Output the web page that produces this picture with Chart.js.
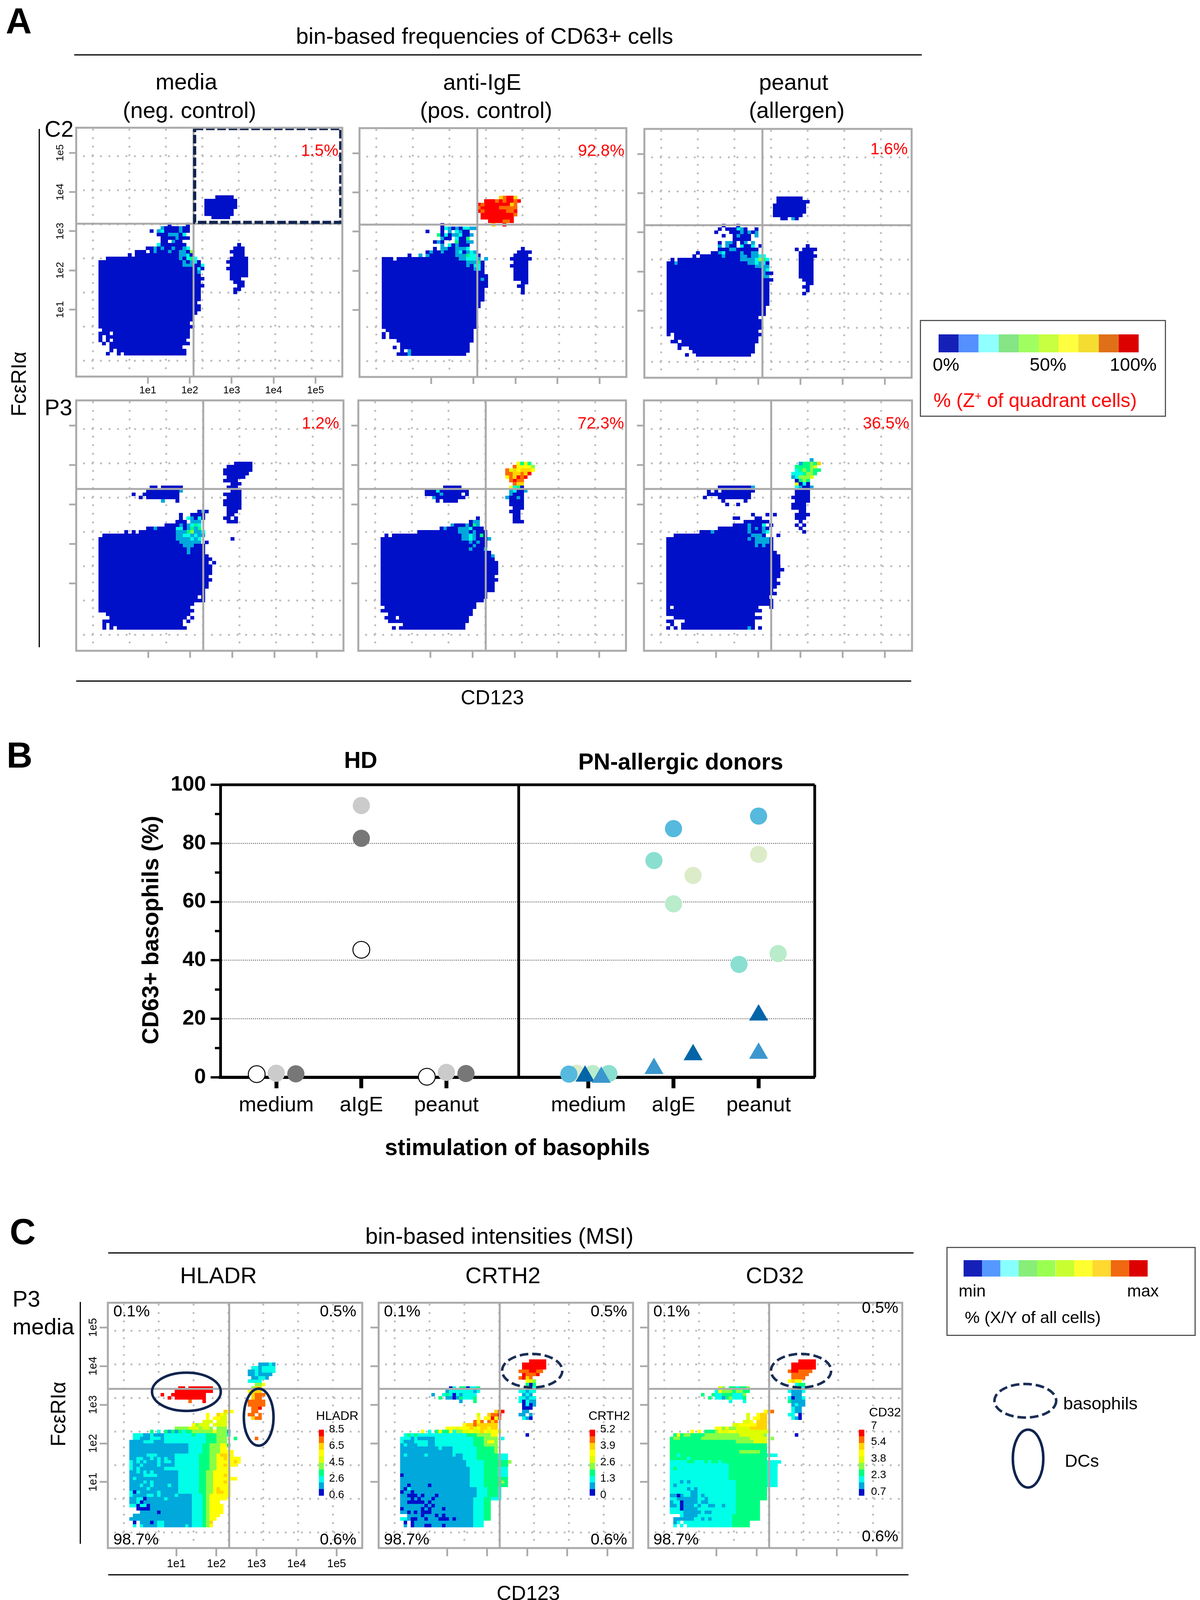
<!DOCTYPE html>
<html>
<head>
<meta charset="utf-8">
<title>CD63 basophil panels</title>
<script src="https://cdn.jsdelivr.net/npm/chart.js@4/dist/chart.umd.min.js"></script>
<style>
  html, body { margin: 0; background: #fff; }
  #page { position: relative; width: 3071px; height: 4113px; overflow: hidden; font-family: "Liberation Sans", Arial, sans-serif; color: #000; }
  #page canvas { position: absolute; }
  .txt { position: absolute; white-space: nowrap; line-height: 1; z-index: 5; }
  .box { position: absolute; z-index: 1; }
  sup { font-size: 60%; line-height: 0; }
  svg { position: absolute; left: 0; top: 0; z-index: 4; }
</style>
</head>
<body>
<div id="page"></div>
<script>
// ---- heatmap bins: every panel is 73 x 73 bins, rects are [rowFrom, rowTo, colFrom, colTo, level]
const binMin = -0.15;
const binMax = 72.85;
const levelColors = ["#0010c8", "#00a8dc", "#00ffe8", "#00ff80", "#88ff44", "#ddff00", "#ffff00", "#ffd400", "#ff6a00", "#ff0000"];
const tickBins = [19.5, 31, 42.5, 54, 65.5];
const tickNames = ["1e1", "1e2", "1e3", "1e4", "1e5"];
const dotCols = [4.45, 14.45, 24.45, 34.45, 44.45, 54.45, 64.45];
const dotRows = [4.5, 14.5, 24.5, 34.5, 44.5, 54.5, 64.5];

const quadA1 = [32.04, 44.7];
const quadA2 = [32.08, 44.55];
const quadA3 = [32.1, 44.6];
const quadA4 = [34.55, 47.03];
const quadA5 = [34.6, 47.03];
const quadA6 = [34.5, 47.03];
const quadC1 = [34.67, 47.23];
const quadC2 = [34.6, 47.23];
const quadC3 = [34.6, 47.23];
const gateX = [32.35, 72.4, 72.4, 32.35, 32.35];
const gateY = [72.6, 72.6, 45.1, 45.1, 72.6];

const cellsA1 = [
  [6,6,8,8],[6,6,11,11],[6,6,13,29],[7,7,9,9],[7,7,11,29],[8,8,9,28],[9,9,7,7],[9,9,9,30],
  [10,10,6,6],[10,10,8,8],[10,10,10,29],[11,11,6,6],[11,11,8,30],[12,12,6,8],[12,12,10,30],[13,13,7,30],
  [14,14,6,31],[15,15,6,30],[16,17,6,31],[18,18,6,32],[19,20,6,33],[21,21,6,32],[22,25,6,33],[26,26,6,34],
  [27,27,6,33],[28,28,6,34],[29,30,6,33],[31,32,6,34],[33,33,6,33],[34,34,8,32],[35,35,14,14],[35,35,16,31],
  [36,36,16,18],[36,36,20,31],[37,37,19,30],[38,38,23,29],[39,39,23,24],[39,39,27,28],[40,40,23,30],
  [41,41,22,28],[42,42,20,20],[42,42,22,30],[43,43,23,30],[44,44,25,25],[44,44,30,30],
  [31,31,33,33,2],[30,30,33,33,1],[32,32,29,31,1],[32,32,34,34,2],[33,33,29,29,1],[33,33,31,31,1],[33,33,32,32,2],
  [34,34,28,28,1],[34,34,30,30,2],[34,34,31,31,3],[34,34,32,32,2],[35,35,28,29,1],[35,35,30,30,2],[36,36,28,29,1],[36,36,31,31,4],
  [36,36,21,21,1],[36,36,25,25,1],[37,37,21,21,1],[37,37,23,23,1],[37,37,26,26,1],[37,37,29,29,1],[37,37,30,30,2],
  [38,38,22,22,2],[39,39,26,26,1],[40,40,27,27,1],[41,41,25,27,1],[41,41,29,29,2],[42,42,22,22,1],[42,42,23,23,2],[42,42,28,28,1],
  [43,43,23,23,1],[43,43,28,28,1],
  [46,46,37,41],[47,48,35,42],[49,51,35,43],[52,52,38,42],
  [24,24,43,43],[25,25,43,44],[26,26,44,45],[27,27,43,45],[28,28,42,44],[29,30,42,46],[31,31,41,46],[32,32,42,46],
  [33,33,41,46],[34,34,42,46],[35,35,43,45],[36,36,42,45],[37,37,43,45],[38,38,44,44]
];
const cellsA2 = [
  [6,6,10,12],[6,6,13,13,1],[6,6,14,28],[7,7,11,11],[7,7,13,13,1],[7,7,14,29],[8,8,9,9],[8,9,11,29],[10,10,10,30],
  [11,12,6,6],[11,12,8,30],[13,13,7,30],[14,19,6,31],[20,21,6,32],[22,25,6,33],[26,29,6,34],[28,28,33,33,1],[30,33,6,33],
  [34,34,6,8],[34,34,10,32],[34,34,34,34,1],[35,35,13,13],[35,35,16,16,1],[35,35,18,18,1],[35,35,19,25],[35,35,26,28,1],[35,35,29,29,3],[35,35,30,31,2],[35,35,32,32],
  [36,36,18,18],[36,36,19,19,1],[36,36,20,21],[36,36,22,22,1],[36,36,23,25],[36,36,26,26,1],[36,36,27,27,2],[36,36,28,28],[36,36,29,29,1],[36,36,30,30,2],[36,36,31,31,1],
  [37,37,20,20],[37,37,22,23,1],[37,37,24,25],[37,37,26,28,1],[37,37,29,29,2],[38,38,22,22,1],[38,38,24,24,2],[38,38,25,25],[38,38,26,26,1],[38,38,27,29],
  [39,39,20,20],[39,39,21,21,1],[39,39,22,22],[39,39,26,26,3],[39,39,27,28],[39,39,29,30,1],[40,40,22,22,1],[40,40,23,24],[40,40,26,26,2],[40,40,27,28],[40,40,29,29,3],
  [41,41,21,21,3],[41,41,22,22],[41,41,23,23,2],[41,41,24,24],[41,41,25,26,1],[41,41,27,27,2],[41,41,28,29],[41,41,30,30,1],
  [42,42,18,18],[42,42,22,22],[42,42,24,24,1],[42,42,26,26,2],[42,42,27,27,1],[42,42,28,29],
  [43,43,22,22],[43,43,23,23,2],[43,43,24,24,1],[43,43,25,25],[43,43,26,26,1],[43,43,27,27],[43,43,28,29,2],[43,43,30,31,1],[44,44,22,22],
  [33,33,29,31,1],[33,33,32,32,3],[32,32,29,29,1],[32,32,31,31,2],[32,32,32,32,2],[31,31,31,31,1],[31,31,32,32,2],[34,34,27,28,1],[34,34,29,31,2],[34,34,32,32,1],
  [52,52,38,38,7],[52,52,39,39,8],[52,52,40,41,9],[52,52,42,42,7],[51,51,34,36,9],[51,51,37,37,8],[51,51,38,38,9],[51,51,39,39,8],[51,51,40,41,9],[51,51,42,42,8],[51,51,43,43,9],
  [50,50,32,32,9],[50,50,33,33,8],[50,50,34,40,9],[50,50,41,41,7],[50,50,42,42,8],[49,49,32,32,8],[49,49,33,37,9],[49,49,38,42,8],
  [48,48,32,32,9],[48,48,33,33,8],[48,48,34,39,9],[48,48,40,41,8],[48,48,42,42,9],[47,47,33,41,9],[47,47,42,42,8],[46,46,33,41,9],
  [45,45,35,38,9],[45,45,39,40,8],[45,45,41,41,9],[44,44,36,36,7],[44,44,39,39,9],
  [24,25,44,44],[26,26,43,44],[27,27,44,45],[28,31,42,45],[32,32,41,45],[33,33,42,45],[34,34,41,46],[35,35,42,45],[36,36,43,46],[37,37,44,44]
];
const cellsA3 = [
  [6,6,11,11],[6,6,14,28],[7,7,13,29],[8,8,9,9],[8,8,12,29],[9,9,9,29],[10,10,7,8],[10,10,10,30],[11,11,8,30],[12,12,6,6],[12,12,8,31],
  [13,13,6,30],[14,16,6,31],[17,17,6,30],[18,20,6,32],[21,27,6,33],[28,28,6,34],[29,29,6,31],[29,29,32,33,1],[30,30,6,31],[30,30,32,32,1],[30,30,33,34],
  [31,31,6,31],[31,31,32,32,1],[31,31,33,33,2],[32,32,6,29],[32,32,30,31,1],[32,32,32,33,1],[33,33,6,7],[33,33,8,8,1],[33,33,9,27],[33,33,28,29,1],[33,33,30,30,2],[33,33,31,31,1],[33,33,32,32,2],[33,33,33,33],
  [34,34,7,7],[34,34,9,25],[34,34,26,29,1],[34,34,30,30,2],[34,34,31,31,4],[34,34,32,32,3],[34,34,33,33,2],
  [35,35,13,13],[35,35,15,20],[35,35,21,21,1],[35,35,22,25],[35,35,26,27,1],[35,35,28,28],[35,35,29,30,1],[35,35,31,32,2],
  [36,36,14,14],[36,36,18,19],[36,36,20,20,1],[36,36,21,21,2],[36,36,22,25],[36,36,26,26,1],[36,36,27,28],[36,36,29,30,1],
  [37,37,20,22],[37,37,23,24,1],[37,37,25,30],[38,38,20,20,1],[38,38,22,22,1],[38,38,23,24],[38,38,26,26,2],[38,38,27,28],[38,38,29,29,2],[38,38,31,31],
  [39,39,20,20],[39,39,22,23,1],[39,39,24,24],[39,39,26,26],[39,39,27,27,1],[39,39,29,29,1],
  [41,41,21,21],[41,41,24,28],[41,41,25,25,1],[41,41,30,30,1],[40,40,24,28],[42,42,19,19],[42,42,23,25],[42,42,26,26,1],[42,42,27,27],[42,42,28,28,1],[42,42,29,29],[42,42,30,30,1],
  [43,43,20,20],[43,43,22,24],[43,43,25,25,2],[43,43,26,26,1],[43,43,27,27],[43,43,30,30],[44,44,21,21],[44,44,25,25],
  [46,46,37,38],[46,46,40,40,1],[46,46,41,41],[47,47,35,42],[48,50,35,43],[51,51,36,44],[52,52,36,42],
  [24,24,43,43],[25,25,44,44],[26,26,43,44],[27,27,44,45],[28,28,43,45],[29,34,42,45],[35,35,42,46],[36,36,42,45],[37,37,41,41],[37,37,43,46],[38,38,44,44]
];
const cellsA4 = [
  [6,6,7,7],[6,6,9,9],[6,6,11,29],[7,7,7,7],[7,7,9,28],[8,8,7,28],[8,8,30,30],[9,9,9,29],[9,9,31,31],[10,10,8,30],[11,11,6,31],[12,12,6,30],[13,13,6,31],
  [14,14,6,34],[15,15,6,32],[15,15,34,34],[16,17,6,34],[18,19,6,35],[20,20,6,36],[21,21,6,35],[22,24,6,36],[25,25,6,35],[25,25,37,37],[26,26,6,36],[27,27,6,35],
  [28,30,6,34],[31,31,6,33],[31,31,35,35],[32,32,6,33],[33,33,7,34],[34,34,13,13],[34,34,15,15],[34,34,17,34],
  [35,35,19,26],[35,35,21,21,1],[35,35,27,28,2],[35,35,29,29],[35,35,30,30,1],[35,35,31,31,3],[35,35,32,32,1],[35,35,33,33,3],
  [34,34,27,29,1],[34,34,30,30,3],[34,34,31,31,4],[34,34,32,33,1],[34,34,34,34,2],[33,33,27,28,1],[33,33,29,30,2],[33,33,31,31,1],[33,33,32,32,2],[33,33,33,34,1],
  [32,32,27,30,1],[32,32,31,31,2],[32,32,32,32,1],[32,32,33,33,2],[31,31,28,33,1],[30,30,29,31,1],[29,29,30,30,1],[28,28,30,30,1],
  [36,36,24,26],[36,36,27,27],[36,36,28,28,1],[36,36,29,29],[36,36,30,30,1],[36,36,31,31,2],[36,36,32,32,3],[36,36,33,33,2],
  [37,37,27,29],[37,37,31,33,1],[38,38,28,28],[38,38,30,30,2],[38,38,31,31,1],[38,38,32,32],[38,38,33,33,2],[38,38,34,34],[39,39,28,28],[39,39,31,34],[40,40,33,33],[40,40,34,34,1],[40,40,35,35],
  [43,43,23,23,1],[43,43,27,27],[44,44,17,17],[44,44,19,27],[45,45,15,15],[45,45,18,27],[46,46,19,27],[46,46,28,28,1],[47,47,20,21],[47,47,23,28],
  [32,32,42,42],[37,37,41,43],[38,38,40,41],[38,38,43,43],[39,39,41,42],[40,40,41,43],[41,41,41,44],[42,43,40,44],[44,44,41,44],[45,45,40,44],[46,46,42,44],[47,47,41,43],[48,48,42,44],[49,49,40,43],[50,50,41,45],[51,51,40,46],[52,52,40,47],[53,53,41,47],[54,54,43,47]
];
const cellsA5 = [
  [6,6,9,9],[6,6,11,28],[7,7,12,28],[8,8,8,29],[9,9,7,9],[9,9,11,29],[10,10,8,30],[11,11,6,30],[12,12,7,31],[13,13,6,31],[14,14,6,33],[15,16,6,34],[17,18,6,36],[19,19,6,36],[20,20,6,37],[21,21,6,36],
  [22,25,6,37],[26,27,6,36],[27,27,36,36,1],[28,28,6,35],[29,31,6,34],[32,32,6,34],[32,32,35,35,1],[33,33,7,7],[33,33,9,34],[34,34,16,34],[35,35,22,22],[35,35,23,23,1],[35,35,24,33],
  [34,34,27,29,1],[34,34,31,31,1],[35,35,27,29,1],[35,35,30,30,2],[33,33,28,29,1],[33,33,30,30,2],[33,33,31,31,1],[33,33,33,33,3],[32,32,28,29,1],[32,32,30,30,2],[32,32,31,31,1],[31,31,30,30,1],[31,31,32,32,1],[30,30,31,31,1],[29,29,30,30,1],[29,29,34,34,1],
  [36,36,25,25,1],[36,36,26,28],[36,36,29,29,1],[36,36,30,30],[36,36,31,31,3],[36,36,32,32,1],[37,37,30,30],[37,37,31,32,1],[38,38,32,32],
  [43,43,21,21],[43,43,23,26],[44,44,20,20,1],[44,44,21,28],[45,45,18,21],[45,45,22,22,1],[45,45,23,27],[45,45,29,29],[46,46,18,20],[46,46,21,21,2],[46,46,22,29],[47,47,23,27],
  [37,37,42,44],[38,39,42,43],[40,40,41,43],[41,41,42,44],[42,43,41,44],[44,44,40,40,1],[44,44,41,42],[44,44,43,43,1],[44,44,44,44],[45,45,41,41,1],[45,45,42,44],[46,46,41,41,1],[46,46,42,42,2],[46,46,43,44],[46,46,45,45,1],
  [47,47,41,41,6],[47,47,42,42,2],[47,47,43,43,3],[47,47,44,44],[48,48,42,42,8],[48,48,43,44,7],[49,49,41,41,8],[49,49,42,42,9],[49,49,43,44,8],
  [50,50,40,40,6],[50,50,41,41,8],[50,50,42,42,7],[50,50,43,43,9],[50,50,44,44,8],[50,50,45,45,9],[51,51,40,41,8],[51,51,42,43,7],[51,51,44,44,8],[51,51,45,45,7],[51,51,46,46,9],
  [52,52,40,40,8],[52,52,41,41,5],[52,52,42,42,7],[52,52,43,43,6],[52,52,44,46,7],[52,52,47,47,6],[53,53,42,42,8],[53,53,43,46,6],[53,53,47,47,4],[54,54,43,43,6],[54,54,44,44,3],[54,54,45,45,6],[54,54,46,46,3]
];
const cellsA6 = [
  [6,6,6,6],[6,6,8,8],[6,6,10,27],[6,6,28,28,1],[6,6,29,29],[6,6,31,31],[7,7,7,7],[7,7,10,29],[8,8,6,7],[8,8,11,29],[9,9,8,31],[10,10,6,29],[11,11,6,31],
  [12,12,6,6],[12,12,8,30],[12,12,34,34],[13,13,6,33],[13,13,34,34],[14,14,6,34],[15,15,6,33],[16,16,6,35],[17,17,6,34],[18,18,6,35],[19,19,6,36],[20,20,6,35],[21,22,6,36],[23,23,6,37],[24,27,6,36],[28,28,6,35],[29,31,6,34],[32,32,6,34],
  [32,32,28,28,1],[32,32,30,33,1],[31,31,30,33,1],[30,30,30,30,1],[30,30,32,32,1],[33,33,8,32],[33,33,29,31,1],[33,33,36,36],
  [34,34,15,33],[34,34,18,18,1],[34,34,28,28,1],[34,34,32,32,1],[34,34,33,33,2],[35,35,20,33],[35,35,28,28,1],[35,35,30,30,1],[35,35,32,32,1],[36,36,24,31],[36,36,28,28,1],[36,36,32,32,2],[36,36,34,34],
  [37,37,27,33],[38,38,24,25],[38,38,30,31],[39,39,29,29],[39,39,33,33],[39,39,35,35],
  [42,42,22,22],[42,42,25,25],[43,43,21,21],[43,43,27,27],[44,44,16,16],[44,44,20,28],[45,45,17,28],[46,46,17,17],[46,46,19,19],[46,46,21,29],[47,47,20,28],[47,47,29,29,1],
  [34,34,43,43],[35,35,42,42],[36,36,41,41],[36,36,43,43],[37,37,42,42],[38,38,41,43],[39,39,41,44],[40,40,42,43],[41,42,40,43],[43,43,41,44],[44,44,40,44],[45,46,41,44],
  [47,47,41,41,2],[47,47,42,42,1],[47,47,43,44],[47,47,45,45,1],[48,48,41,41,5],[48,48,42,42],[48,48,43,43,2],[48,48,44,44],[49,49,41,41],[49,49,42,42,3],[49,49,43,43,4],[49,49,44,44,3],
  [50,50,40,40,1],[50,50,41,41,2],[50,50,42,44,4],[50,50,45,45,5],[51,51,40,42,2],[51,51,43,43,3],[51,51,44,45,4],[51,51,46,46,3],[52,52,41,41,2],[52,52,42,42,3],[52,52,43,43,4],[52,52,44,44,3],[52,52,45,45,4],[52,52,46,47,3],
  [53,53,41,44,3],[53,53,45,45,4],[53,53,46,46,5],[54,54,42,42,1],[54,54,43,44,3],[54,54,45,45,4],[54,54,46,46,3],[54,54,47,47,7],[55,55,45,45,1]
];
const cellsC1 = [
  [6,7,7,23,1],[8,15,6,23,1],[8,15,24,26,2],[6,7,24,26,2],[6,15,27,27,3],[6,15,28,28,4],[6,6,29,29,6],[7,7,29,29,7],[8,8,29,30,6],[9,9,29,31,6],[10,12,29,32,6],[13,13,29,31,6],[14,14,29,33,6],[15,15,29,34,6],
  [16,22,6,19,1],[16,22,20,25,2],[16,22,26,27,3],[16,22,28,29,4],[16,22,30,34,6],[20,20,35,36,6],
  [23,27,6,18,1],[23,27,19,25,2],[23,27,26,28,3],[23,27,29,30,4],[23,27,31,34,6],[24,24,35,36,6],[25,25,35,37,6],[26,26,35,37,6],[27,27,35,35,6],
  [24,24,33,33,7],[26,26,33,33,7],[21,21,33,33,7],[19,19,33,33,7],[17,17,31,31,7],[16,16,31,32,7],[25,25,36,36,7],[27,27,32,33,7],
  [28,30,6,22,1],[28,30,23,26,2],[28,30,27,28,3],[28,30,29,31,4],[28,30,32,33,6],[28,28,34,35,6],[30,30,34,34,3],
  [31,33,7,15,1],[31,31,6,15,1],[31,33,16,27,2],[31,33,28,30,3],[31,33,31,33,4],[32,32,36,36,3],[33,33,24,24,3],[33,33,34,34,2],
  [27,27,11,13,2],[26,26,8,9,2],[26,26,12,12,2],[26,26,14,14,2],[26,26,16,16,2],[25,25,6,6,2],[25,25,8,8,2],[25,25,10,10,2],[25,25,14,14,2],[25,25,16,17,2],[24,24,6,6,2],[24,24,9,9,2],[24,24,14,14,2],[23,23,6,6,2],[23,23,8,8,2],[23,23,16,18,2],
  [22,22,8,8,2],[22,22,10,10,2],[22,22,12,12,2],[21,21,10,13,2],[20,20,7,7,2],[19,19,10,10,2],[19,19,12,12,2],[18,18,9,9,2],[18,18,12,12,2],[18,18,17,17,2],[18,18,20,20,2],[17,17,11,11,2],[15,15,6,6,2],[15,15,11,12,2],[15,15,14,14,2],[15,15,19,19,2],
  [16,16,6,6,2],[16,16,7,7,0],[16,16,8,8,2],[16,16,14,14,2],[14,14,8,9,2],[14,14,10,10,0],[14,14,16,16,2],[13,13,8,8,2],[13,13,9,9,0],[12,12,6,7,2],[12,12,8,8,0],[12,12,9,10,2],[12,12,11,11,0],[11,11,8,11,0],[11,11,6,7,-1],[10,10,14,14,0],[10,10,6,8,-1],[9,9,6,6,-1],[7,7,7,7,0],[7,7,12,12,0],[6,6,7,7,2],[6,6,8,8,-1],[6,6,9,9,2],[6,7,14,15,2],[6,6,22,22,2],[7,7,8,8,-1],[6,6,24,26,2],
  [31,31,10,12,2],[32,32,7,8,2],[33,33,7,9,2],[32,32,12,14,2],[33,33,12,12,2],
  [34,34,12,12,3],[34,34,14,14,2],[34,34,16,16,3],[34,34,17,17,1],[34,34,18,18,3],[34,34,19,19,1],[34,34,20,20,3],[34,34,21,21,2],[34,34,22,23,3],[34,34,24,33,4],[34,34,30,30,6],[34,34,34,34,1],
  [35,35,19,22,4],[35,35,23,25,5],[35,35,26,26,4],[35,35,27,28,5],[35,35,29,29,4],[35,35,31,33,4],[36,36,24,24,6],[36,36,25,25,4],[36,36,26,28,5],[36,36,30,33,5],[37,37,27,29,5],[37,37,31,33,5],[38,38,28,28,6],[38,38,30,31,6],[38,38,32,33,5],[39,39,28,28,6],[39,39,31,31,7],[39,39,32,32,6],[39,39,33,33,5],[40,40,33,33,7],[40,40,34,34,6],[40,40,35,35,6],
  [43,43,23,23,8],[43,43,27,27,9],[44,44,17,17,9],[44,44,19,27,9],[45,45,15,15,9],[45,45,18,27,9],[46,46,19,29,9],[47,47,20,21,9],[47,47,23,29,9],
  [32,32,42,42,8],[38,38,41,41,7],[38,38,42,43,8],[39,39,40,41,8],[39,39,43,43,8],[40,41,41,42,8],[41,41,43,43,9],[42,43,40,44,8],[44,44,41,41,7],[44,44,42,43,8],[45,45,41,41,7],[45,45,42,44,8],[46,46,40,40,6],[46,46,41,43,7],[47,47,41,41,4],[47,47,42,43,7],[48,48,42,43,4],[48,48,44,44,6],
  [49,49,40,43,2],[50,50,41,42,1],[50,50,43,44,2],[50,50,45,45,1],[51,51,40,41,1],[51,51,42,42,2],[51,51,43,46,1],[52,52,40,41,1],[52,52,42,42,2],[52,52,43,43,1],[52,52,44,47,2],[53,53,41,42,2],[53,53,43,43,1],[53,53,44,47,2],[54,54,43,45,1],[54,54,46,46,2],[54,54,47,47,1]
];
const cellsC2 = [
  [6,7,7,26,1],[6,7,27,29,2],[8,14,6,26,1],[8,14,27,29,2],[8,14,30,31,3],[14,14,32,34,2],
  [15,17,6,27,1],[15,17,28,30,2],[15,17,31,33,3],[15,17,34,34,2],[18,20,6,25,1],[18,20,26,29,2],[18,20,30,33,3],[18,20,34,36,3],[19,19,35,35,4],
  [21,23,6,25,1],[21,23,26,29,2],[21,23,30,33,3],[21,23,34,36,2],[24,25,6,24,1],[24,25,25,29,2],[24,25,30,33,3],[24,25,34,36,3],[25,25,37,37,4],
  [26,27,6,23,1],[26,27,24,27,2],[26,27,28,33,3],[26,27,34,36,2],[28,29,6,20,1],[28,29,21,27,2],[28,29,28,32,3],[28,29,33,33,4],
  [30,32,6,15,1],[30,32,16,26,2],[30,32,27,29,3],[30,32,30,33,4],[31,31,31,32,6],[32,32,35,35,2],
  [33,33,7,15,2],[33,33,16,24,2],[33,33,25,27,3],[33,33,28,31,4],[33,33,32,33,6],[33,33,8,8,3],[33,33,10,10,3],
  [31,31,6,6,2],[31,31,10,13,2],[32,32,6,8,2],[32,32,10,10,2],[30,30,7,7,2],[30,30,11,13,2],[29,29,17,17,2],[27,27,7,7,2],[27,27,13,13,2],[27,27,21,21,2],
  [21,21,6,6,0],[18,18,8,8,0],[18,18,14,14,0],[17,17,7,7,0],[17,17,8,8,2],[16,16,6,6,0],[16,16,9,9,0],[15,15,8,10,0],[15,15,12,12,0],[15,15,16,16,0],[14,14,9,9,0],[14,14,11,11,0],[14,14,15,15,0],[13,13,8,12,0],[13,13,14,14,0],[12,12,13,13,0],[12,12,15,15,0],[11,11,6,6,0],[11,11,12,12,0],[11,11,14,14,0],[11,11,18,18,0],[10,10,8,8,0],[10,10,10,10,0],[10,10,12,14,0],[9,9,12,12,0],[9,9,16,16,0],[9,9,18,18,0],[8,8,9,10,0],[8,8,13,13,0],[8,8,17,19,0],[8,8,21,21,0],[7,7,7,7,0],[7,7,9,9,0],[6,6,9,9,0],[6,6,13,14,0],[6,6,18,18,0],[9,9,6,7,-1],[6,6,8,8,-1],[7,7,8,8,-1],[8,8,6,7,2],
  [34,34,12,12,6],[34,34,14,14,2],[34,34,16,16,3],[34,34,17,17,6],[34,34,18,19,3],[34,34,20,20,6],[34,34,21,21,2],[34,34,22,23,4],[34,34,24,25,5],[34,34,26,26,6],[34,34,27,28,5],[34,34,29,29,7],[34,34,30,30,6],[34,34,31,31,5],[34,34,32,33,6],[34,34,34,34,5],
  [35,35,19,21,6],[35,35,22,22,5],[35,35,23,25,6],[35,35,26,26,7],[35,35,27,27,5],[35,35,28,28,6],[35,35,29,30,7],[35,35,31,31,6],[35,35,32,33,7],[36,36,24,24,6],[36,36,25,26,7],[36,36,27,27,8],[36,36,28,33,7],
  [37,37,27,27,8],[37,37,28,28,6],[37,37,29,29,8],[37,37,31,31,8],[37,37,32,32,7],[37,37,33,33,8],[38,38,28,28,6],[38,38,30,31,6],[38,38,32,32,9],[38,38,33,33,6],[38,38,34,34,8],[39,39,28,28,5],[39,39,31,31,7],[39,39,32,33,8],[39,39,34,34,9],[40,40,33,33,7],[40,40,34,34,8],[40,40,35,35,9],
  [43,43,23,23,1],[43,43,27,27,3],[44,44,17,17,3],[44,44,19,20,1],[44,44,21,21,0],[44,44,22,22,1],[44,44,23,23,3],[44,44,24,26,2],[44,44,27,27,3],[45,45,15,15,1],[45,45,18,18,2],[45,45,19,19,3],[45,45,20,20,2],[45,45,21,21,0],[45,45,22,22,2],[45,45,23,23,1],[45,45,24,27,2],
  [46,46,19,19,1],[46,46,20,26,2],[46,46,27,27,1],[46,46,28,28,2],[47,47,20,20,0],[47,47,21,21,2],[47,47,23,24,3],[47,47,25,25,0],[47,47,26,27,2],[47,47,28,28,3],
  [33,33,42,42,0],[38,38,41,41,2],[38,38,42,42,1],[38,38,43,43,0],[39,39,40,41,1],[39,39,43,43,1],[40,40,41,42,1],[41,41,41,43,0],[42,42,41,41,0],[42,42,42,42,2],[42,42,43,43,0],[42,42,44,44,1],[43,43,40,40,2],[43,43,41,41,0],[43,43,42,42,2],[43,43,43,44,1],
  [44,44,40,41,2],[44,44,42,42,1],[44,44,43,44,2],[45,45,41,41,1],[45,45,42,42,2],[45,45,43,43,1],[46,46,40,41,2],[46,46,42,42,1],[46,46,43,44,2],[47,47,42,42,1],[47,47,43,44,2],[48,48,42,42,3],[48,48,43,43,0],[48,48,44,44,3],
  [49,49,42,42,6],[49,49,43,43,5],[49,49,44,44,4],[50,50,40,40,8],[50,50,41,41,9],[50,50,42,42,7],[50,50,43,43,8],[51,51,41,41,9],[51,51,42,44,8],[51,51,45,45,9],[52,52,40,42,8],[52,52,43,44,9],[52,52,45,46,8],[53,54,41,47,9],[55,55,43,47,9]
];
const cellsC3 = [
  [6,7,7,23,2],[6,7,24,28,3],[8,9,6,23,2],[8,9,24,31,3],[10,14,6,24,2],[10,14,25,31,3],[14,14,32,33,3],
  [15,19,6,24,2],[15,19,25,33,3],[18,20,34,36,2],[20,24,6,22,2],[20,24,23,33,3],[21,24,34,36,2],[25,25,6,10,2],[25,25,11,33,3],[25,25,34,37,2],
  [26,31,6,28,3],[26,28,29,33,3],[27,27,34,36,2],[28,28,26,31,4],[29,30,29,33,3],[31,31,25,29,4],[31,31,30,33,5],[32,32,6,14,3],[32,32,15,28,4],[32,32,29,33,5],[32,32,7,8,4],[32,32,35,35,4],
  [33,33,7,15,3],[33,33,8,8,6],[33,33,10,11,4],[33,33,16,25,4],[33,33,26,32,5],[33,33,33,33,4],
  [26,26,11,11,2],[27,27,8,8,2],[23,23,7,7,3],[25,25,17,17,2],[25,25,13,15,2],[25,25,20,20,2],
  [19,19,9,9,1],[19,19,11,11,1],[18,18,7,7,1],[17,17,11,11,1],[17,17,13,13,1],[16,16,12,13,1],
  [15,15,6,7,1],[15,15,8,8,0],[15,15,9,9,1],[15,15,12,13,1],[15,15,15,15,1],[14,14,8,13,1],[14,14,16,16,1],[13,13,6,6,1],[13,13,9,9,0],[13,13,10,13,1],[13,13,15,16,1],[12,12,6,7,1],[12,12,9,9,0],[12,12,10,12,1],[12,12,14,14,1],[12,12,17,18,1],[12,12,21,21,1],[11,11,9,9,0],[11,11,11,11,0],[11,11,10,13,1],[10,10,10,14,1],[10,10,16,17,1],[9,9,10,13,1],[9,9,6,8,-1],[8,8,7,12,1],[8,8,15,15,1],[8,8,17,17,1],[8,8,6,6,-1],[7,7,7,7,1],[7,7,9,9,-1],[6,6,8,8,-1],[6,6,10,10,-1],
  [34,34,12,12,6],[34,34,14,14,6],[34,34,16,18,3],[34,34,19,19,4],[34,34,20,20,6],[34,34,21,22,5],[34,34,23,24,6],[34,34,25,31,5],[34,34,32,34,5],
  [35,35,19,20,6],[35,35,21,21,4],[35,35,22,22,6],[35,35,23,24,4],[35,35,25,28,5],[35,35,29,33,7],[36,36,24,25,5],[36,36,26,30,6],[36,36,31,33,7],[37,37,27,28,5],[37,37,29,29,6],[37,37,31,33,7],[38,38,28,28,5],[38,38,30,31,6],[38,38,32,33,7],[39,39,28,28,5],[39,39,31,31,6],[39,39,32,33,7],[40,40,33,33,6],[40,40,34,34,7],[40,40,35,35,8],
  [43,43,23,23,2],[43,43,27,27,2],[44,44,17,17,3],[44,44,19,20,2],[44,44,21,21,1],[44,44,22,22,3],[44,44,23,23,4],[44,44,24,26,2],[44,44,27,27,3],[45,45,15,15,3],[45,45,18,18,3],[45,45,19,20,2],[45,45,21,23,3],[45,45,24,26,2],[45,45,27,27,4],
  [46,46,19,19,2],[46,46,20,20,6],[46,46,21,23,4],[46,46,24,24,3],[46,46,25,26,4],[46,46,27,28,3],[47,47,20,20,5],[47,47,21,21,4],[47,47,23,24,3],[47,47,25,25,2],[47,47,26,27,3],[47,47,28,28,4],
  [33,33,42,42,0],[38,38,41,41,2],[38,38,42,42,1],[38,38,43,43,0],[39,39,40,41,2],[39,39,43,43,0],[40,40,41,41,2],[40,40,42,43,1],[41,41,41,41,2],[41,41,42,43,1],[42,42,41,41,1],[42,42,42,42,2],[42,42,43,44,1],[43,43,40,40,3],[43,43,41,44,1],[44,44,40,40,2],[44,44,41,41,0],[44,44,42,43,1],[44,44,44,44,2],
  [45,45,41,43,1],[46,46,40,40,2],[46,46,41,43,1],[46,46,44,44,2],[47,47,42,42,2],[47,47,43,43,1],[47,47,44,44,2],[48,48,42,42,2],[48,48,43,44,3],[49,49,40,40,6],[49,49,41,41,7],[49,49,42,43,6],[50,50,41,44,8],[51,51,41,44,8],[51,51,45,45,8],[52,52,40,46,8],[52,52,41,42,9],[53,53,41,47,9],[53,53,43,43,9],[54,54,41,47,9],[55,55,43,47,9]
];

// ---- panel B: stimulation scatter
const stimCategories = ["medium", "aIgE", "peanut"];
const hdPositions = [1, 2, 3];
const pnPositions = [4.67, 5.67, 6.67];
const dividerAt = 3.85;
const stimTicks = [0, 20, 40, 60, 80, 100];
const stimMinor = [10, 30, 50, 70, 90];

const hdWhiteY = [1.1, 43.6, 0.2];
const hdWhiteShift = [-0.23, 0, -0.23];
const hdLightY = [1.4, 92.9, 1.7];
const hdLightShift = [0, 0, 0];
const hdDarkY = [1.2, 81.7, 1.3];
const hdDarkShift = [0.23, 0, 0.23];

const pnPaleY = [1.4, 69, 76.2];
const pnPaleShift = [-0.14, 0.23, 0];
const pnMintY = [1.3, 59.3, 42.3];
const pnMintShift = [0.05, 0, 0.23];
const pnTealY = [1.3, 74.1, 38.6];
const pnTealShift = [0.24, -0.23, -0.23];
const pnBlueY = [1.1, 85, 89.3];
const pnBlueShift = [-0.23, 0, 0];
const pnDeepY = [0.4, 7.7, 21.3];
const pnDeepShift = [-0.04, 0.23, 0];
const pnSkyY = [0, 3, 8.2];
const pnSkyShift = [0.15, -0.23, 0];

// ---- page helpers
const page = document.getElementById("page");

function addText(text, x, y, size, opts) {
  opts = opts || {};
  const el = document.createElement("div");
  el.className = "txt";
  el.innerHTML = text;
  el.style.left = x + "px";
  el.style.top = y + "px";
  el.style.fontSize = size + "px";
  if (opts.bold) el.style.fontWeight = "bold";
  if (opts.color) el.style.color = opts.color;
  const ax = opts.align === "left" ? "0" : opts.align === "right" ? "-100%" : "-50%";
  el.style.transform = "translate(" + ax + ",-50%)" + (opts.rotate ? " rotate(-90deg)" : "");
  page.appendChild(el);
}

function addBox(x, y, w, h, css) {
  const el = document.createElement("div");
  el.className = "box";
  el.style.cssText = "left:" + x + "px;top:" + y + "px;width:" + w + "px;height:" + h + "px;" + (css || "");
  page.appendChild(el);
}

function cellImage(color, w, h) {
  const c = document.createElement("canvas");
  c.width = w;
  c.height = h;
  const g = c.getContext("2d");
  g.fillStyle = color;
  g.fillRect(0, 0, w, h);
  return c;
}

function rectsToLevels(rects) {
  const grid = new Map();
  rects.forEach(([r0, r1, c0, c1, level]) => {
    const lv = level === undefined ? 0 : level;
    for (let r = r0; r <= r1; r++) {
      for (let c = c0; c <= c1; c++) {
        if (lv < 0) grid.delete(c + "," + r);
        else grid.set(c + "," + r, lv);
      }
    }
  });
  const perLevel = levelColors.map(() => []);
  grid.forEach((lv, key) => {
    const [c, r] = key.split(",").map(Number);
    perLevel[lv].push({ x: c + 0.5, y: r + 0.5 });
  });
  return perLevel;
}

const framePlugin = {
  id: "frame",
  afterDatasetsDraw(chart) {
    const a = chart.chartArea;
    const ctx = chart.ctx;
    ctx.save();
    ctx.strokeStyle = "#aaaaaa";
    ctx.lineWidth = 5;
    ctx.strokeRect(a.left, a.top, a.right - a.left, a.bottom - a.top);
    ctx.restore();
  }
};

function gridDots() {
  const dots = [];
  dotCols.forEach(x => { for (let y = 2.3; y < 72.6; y += 2.5) dots.push({ x, y }); });
  dotRows.forEach(y => { for (let x = 1.97; x < 72.6; x += 2.33) dots.push({ x, y }); });
  return dots;
}

function heatPanel(frame, rects, quad, extra) {
  extra = extra || {};
  const [L, T, R, B] = frame;
  const ML = 90, MB = 62, MT = 30, MR = 30;
  const W = R - L, H = B - T;
  const cv = document.createElement("canvas");
  cv.width = Math.round(W + ML + MR);
  cv.height = Math.round(H + MT + MB);
  cv.style.left = (L - ML) + "px";
  cv.style.top = (T - MT) + "px";
  page.appendChild(cv);

  const perLevel = rectsToLevels(rects);
  const cw = Math.ceil(W / 73), ch = Math.ceil(H / 73);
  const datasets = perLevel.map((pts, i) => ({
    data: pts,
    pointStyle: cellImage(levelColors[i], cw, ch),
    pointRadius: 5,
    order: 5
  }));
  const lineStyle = { showLine: true, pointRadius: 0, borderColor: "#aaaaaa", borderWidth: 5, clip: false, order: 2, fill: false };
  datasets.push(Object.assign({ data: [{ x: quad[0], y: binMin }, { x: quad[0], y: binMax }] }, lineStyle));
  datasets.push(Object.assign({ data: [{ x: binMin, y: quad[1] }, { x: binMax, y: quad[1] }] }, lineStyle));
  datasets.push({ data: gridDots(), pointStyle: "circle", pointRadius: 2.6, backgroundColor: "#bdbdbd", borderWidth: 0, order: 20 });
  if (extra.gate) {
    datasets.push({
      data: gateX.map((x, i) => ({ x, y: gateY[i] })),
      showLine: true, pointRadius: 0, borderColor: "#10244f", borderWidth: 8, borderDash: [22, 7], clip: false, order: 1, fill: false
    });
  }
  const tickFont = { family: "Liberation Sans", size: extra.tickSize || 26 };
  const tickLen = extra.tickLen || 18;
  const axisGrid = { drawOnChartArea: false, drawTicks: true, tickLength: tickLen, tickWidth: 4.5, tickColor: "#aaaaaa" };
  new Chart(cv, {
    type: "scatter",
    data: { datasets },
    plugins: [framePlugin],
    options: {
      responsive: false,
      animation: false,
      devicePixelRatio: 1,
      layout: { padding: { top: MT, right: MR, left: 0, bottom: 0 } },
      plugins: { legend: { display: false }, tooltip: { enabled: false } },
      scales: {
        x: {
          type: "linear", min: binMin, max: binMax, position: "bottom",
          afterBuildTicks: s => { s.ticks = tickBins.map(value => ({ value })); },
          afterFit: s => { s.height = MB; },
          ticks: { display: !!extra.labels, autoSkip: false, maxRotation: 0, color: "#000", font: tickFont, padding: extra.xPad || 2, callback: (v, i) => tickNames[i] },
          grid: axisGrid,
          border: { display: false }
        },
        y: {
          type: "linear", min: binMin, max: binMax, position: "left",
          afterBuildTicks: s => { s.ticks = tickBins.map(value => ({ value })); },
          afterFit: s => { s.width = ML; },
          ticks: { display: !!extra.labels, autoSkip: false, minRotation: 90, maxRotation: 90, crossAlign: "center", color: "#000", font: tickFont, padding: extra.yPad || 0, callback: (v, i) => tickNames[i] },
          grid: axisGrid,
          border: { display: false }
        }
      }
    }
  });
}

// ---- panel A
heatPanel([194.6, 326.8, 876, 963.8], cellsA1, quadA1, { labels: true, gate: true });
heatPanel([920, 327.7, 1603, 965], cellsA2, quadA2);
heatPanel([1649, 330.4, 2332.6, 967.4], cellsA3, quadA3);
heatPanel([194.6, 1024.6, 878.5, 1665.6], cellsA4, quadA4);
heatPanel([917, 1024.6, 1602, 1665.6], cellsA5, quadA5);
heatPanel([1647.6, 1024.6, 2333.5, 1665.6], cellsA6, quadA6);

// ---- panel C
const cOpts = { tickLen: 21 };
heatPanel([276, 3334.7, 926.6, 3962.9], cellsC1, quadC1, { labels: true, tickLen: 21, tickSize: 29, yPad: -8, xPad: 3 });
heatPanel([969.4, 3334.7, 1620, 3962.9], cellsC2, quadC2, cOpts);
heatPanel([1659, 3334.7, 2309, 3962.9], cellsC3, quadC3, cOpts);

// ---- panel B
function stimPoints(positions, values, shifts) {
  return values.map((y, i) => ({ x: positions[i] + shifts[i], y }));
}

const stimSeries = [
  { pts: stimPoints(hdPositions, hdWhiteY, hdWhiteShift), color: "#ffffff", edge: "#000000", edgeW: 2.5, style: "circle", r: 21.5 },
  { pts: stimPoints(hdPositions, hdLightY, hdLightShift), color: "#cbcbcb", style: "circle", r: 22 },
  { pts: stimPoints(hdPositions, hdDarkY, hdDarkShift), color: "#777777", style: "circle", r: 22 },
  { pts: stimPoints(pnPositions, pnPaleY, pnPaleShift), color: "#dcecc8", style: "circle", r: 22 },
  { pts: stimPoints(pnPositions, pnMintY, pnMintShift), color: "#b9eccb", style: "circle", r: 22 },
  { pts: stimPoints(pnPositions, pnTealY, pnTealShift), color: "#8adfd0", style: "circle", r: 22 },
  { pts: stimPoints(pnPositions, pnBlueY, pnBlueShift), color: "#56b9de", style: "circle", r: 22 },
  { pts: stimPoints(pnPositions, pnDeepY, pnDeepShift), color: "#0265a8", style: "triangle", r: 28 },
  { pts: stimPoints(pnPositions, pnSkyY, pnSkyShift), color: "#3b97ce", style: "triangle", r: 28 }
];

(function stimChart() {
  const L = 564, T = 2008.8, R = 2085, B = 2757.5;
  const ML = 200, MB = 130, MT = 60, MR = 30;
  const cv = document.createElement("canvas");
  cv.width = Math.round(R - L + ML + MR);
  cv.height = Math.round(B - T + MT + MB);
  cv.style.left = (L - ML) + "px";
  cv.style.top = (T - MT) + "px";
  page.appendChild(cv);

  const xMin = 0.343, xMax = 7.33;
  const blackLine = pts => ({ data: pts, showLine: true, pointRadius: 0, borderColor: "#000", borderWidth: 7, clip: false, fill: false, order: 30 });
  const datasets = stimSeries.map((s, i) => ({
    data: s.pts,
    pointStyle: s.style,
    pointRadius: s.r,
    backgroundColor: s.color,
    borderColor: s.edge || s.color,
    borderWidth: s.edgeW || 0,
    clip: false,
    order: stimSeries.length - i
  }));
  datasets.push(blackLine([{ x: xMin, y: 100 }, { x: xMax, y: 100 }]));
  datasets.push(blackLine([{ x: xMax, y: 100 }, { x: xMax, y: 0 }]));
  datasets.push(blackLine([{ x: dividerAt, y: 100 }, { x: dividerAt, y: 0 }]));

  const minorPlugin = {
    id: "minorTicks",
    afterDraw(chart) {
      const ctx = chart.ctx;
      const sy = chart.scales.y;
      ctx.save();
      ctx.strokeStyle = "#000";
      ctx.lineWidth = 6;
      stimMinor.forEach(v => {
        const py = sy.getPixelForValue(v);
        ctx.beginPath();
        ctx.moveTo(chart.chartArea.left - 14, py);
        ctx.lineTo(chart.chartArea.left, py);
        ctx.stroke();
      });
      ctx.restore();
    }
  };

  const positions = hdPositions.concat(pnPositions);
  const names = stimCategories.concat(stimCategories);
  new Chart(cv, {
    type: "scatter",
    data: { datasets },
    plugins: [minorPlugin],
    options: {
      responsive: false,
      animation: false,
      devicePixelRatio: 1,
      layout: { padding: { top: MT, right: MR, left: 0, bottom: 0 } },
      plugins: { legend: { display: false }, tooltip: { enabled: false } },
      scales: {
        x: {
          type: "linear", min: xMin, max: xMax,
          afterBuildTicks: s => { s.ticks = positions.map(value => ({ value })); },
          afterFit: s => { s.height = MB; },
          ticks: { autoSkip: false, maxRotation: 0, color: "#000", font: { family: "Liberation Sans", size: 54 }, padding: 12, callback: (v, i) => names[i] },
          grid: { drawOnChartArea: false, tickLength: 28, tickWidth: 10, tickColor: "#000" },
          border: { display: true, color: "#000", width: 8 }
        },
        y: {
          type: "linear", min: 0, max: 100,
          afterBuildTicks: s => { s.ticks = stimTicks.map(value => ({ value })); },
          afterFit: s => { s.width = ML; },
          ticks: { autoSkip: false, color: "#000", font: { family: "Liberation Sans", size: 54, weight: "bold" }, padding: 12 },
          grid: { color: "#333333", lineWidth: 2, tickLength: 25, tickWidth: 6, tickColor: "#000" },
          border: { display: true, color: "#000", width: 7, dash: [2, 3] }
        }
      }
    }
  });
})();

// ---- figure text
addText("A", 48, 53, 92, { bold: true });
addText("B", 50, 1933, 92, { bold: true });
addText("C", 58, 3153, 92, { bold: true });

addText("bin-based frequencies of CD63+ cells", 1240, 92, 58);
addBox(190, 139, 2169, 3, "background:#000");
addText("media", 477, 209, 58);
addText("(neg. control)", 485, 282, 58);
addText("anti-IgE", 1234, 210, 58);
addText("(pos. control)", 1244, 282, 58);
addText("peanut", 2031, 210, 58);
addText("(allergen)", 2039, 282, 58);
addText("C2", 114, 330, 58, { align: "left" });
addText("P3", 114, 1043, 58, { align: "left" });
addText("Fc&epsilon;RI&alpha;", 47, 983, 53, { rotate: true });
addBox(99, 330, 3, 1327, "background:#000");
addBox(195, 1742, 2137, 3, "background:#000");
addText("CD123", 1260, 1785, 52);

addText("1.5%", 866, 385, 42, { align: "right", color: "#ff0000" });
addText("92.8%", 1598, 385, 42, { align: "right", color: "#ff0000" });
addText("1.6%", 2323, 381, 42, { align: "right", color: "#ff0000" });
addText("1.2%", 868, 1083, 42, { align: "right", color: "#ff0000" });
addText("72.3%", 1597, 1083, 42, { align: "right", color: "#ff0000" });
addText("36.5%", 2327, 1083, 42, { align: "right", color: "#ff0000" });

// A colour key
const keyColors = ["#1520b8", "#5590ff", "#90ffff", "#85e585", "#a0ff60", "#c8ff40", "#ffff40", "#f5dc30", "#e07018", "#dc0000"];
addBox(2354, 819, 630, 248, "border:3px solid #555;box-sizing:border-box");
keyColors.forEach((c, i) => addBox(2402 + i * 51.2, 856, 51.2, 46, "background:" + c));
addText("0%", 2387, 932, 47, { align: "left" });
addText("50%", 2682, 932, 47);
addText("100%", 2900, 932, 47);
addText("% (Z<sup>+</sup> of quadrant cells)", 2389, 1025, 50, { align: "left", color: "#ff0000" });

// B text
addText("HD", 923, 1946, 59, { bold: true });
addText("PN-allergic donors", 1742, 1950, 59, { bold: true });
addText("CD63+ basophils (%)", 385, 2381, 59, { bold: true, rotate: true });
addText("stimulation of basophils", 1324, 2937, 59, { bold: true });

// C text
addText("bin-based intensities (MSI)", 1278, 3164, 58);
addBox(277, 3206, 2061, 3, "background:#000");
addText("HLADR", 559, 3265, 58);
addText("CRTH2", 1287, 3265, 58);
addText("CD32", 1983, 3265, 58);
addText("P3", 32, 3325, 58, { align: "left" });
addText("media", 32, 3396, 58, { align: "left" });
addText("Fc&epsilon;RI&alpha;", 148, 3620, 53, { rotate: true });
addBox(204, 3333, 3, 619, "background:#000");
addBox(277, 4030, 2048, 3, "background:#000");
addText("CD123", 1352, 4078, 52);

const cornerRows = [
  [290, 912, 3356, 3940],
  [982.5, 1605, 3356, 3940],
  [1672, 2299, 3356, 3940]
];
cornerRows.forEach((p, i) => {
  addText("0.1%", p[0], p[2], 41, { align: "left" });
  addText("0.5%", p[1], i === 2 ? 3347 : p[2], 41, { align: "right" });
  addText("98.7%", p[0], p[3], 41, { align: "left" });
  addText("0.6%", p[1], i === 2 ? 3932 : p[3], 41, { align: "right" });
});

// little scales inside panel C
const scaleHLADR = ["8.5", "6.5", "4.5", "2.6", "0.6"];
const scaleCRTH2 = ["5.2", "3.9", "2.6", "1.3", "0"];
const scaleCD32 = ["7", "5.4", "3.8", "2.3", "0.7"];
function miniScale(title, titleX, titleY, barX, labelX, names, labelYs) {
  addText(title, titleX, titleY, 32);
  levelColors.forEach((c, i) => addBox(barX, 3660 + (9 - i) * 16.9, 13.5, 17.2, "z-index:3;background:" + c));
  names.forEach((n, i) => addText(n, labelX, labelYs[i], 28, { align: "left" }));
}
miniScale("HLADR", 863, 3624, 815.6, 842, scaleHLADR, [3658, 3700, 3742, 3784, 3826]);
miniScale("CRTH2", 1559, 3624, 1509, 1536, scaleCRTH2, [3658, 3700, 3742, 3784, 3826]);
miniScale("CD32", 2265, 3615, 2198, 2229, scaleCD32, [3649, 3690, 3733, 3775, 3818]);

// C colour key
const keyColorsC = ["#1520b8", "#5598ff", "#88ffff", "#88ee78", "#9aff50", "#c8ff30", "#ffff30", "#ffd830", "#f06810", "#dc0000"];
addBox(2422, 3192, 638, 228, "border:3px solid #555;box-sizing:border-box");
keyColorsC.forEach((c, i) => addBox(2466 + i * 47.1, 3226, 47.1, 42, "background:" + c));
addText("min", 2488, 3304, 43);
addText("max", 2925, 3304, 43);
addText("% (X/Y of all cells)", 2469, 3372, 43, { align: "left" });
addText("basophils", 2721, 3592, 45, { align: "left" });
addText("DCs", 2725, 3739, 45, { align: "left" });

// gates drawn over panel C
const svgNS = "http://www.w3.org/2000/svg";
const svg = document.createElementNS(svgNS, "svg");
svg.setAttribute("width", 3071);
svg.setAttribute("height", 4113);
page.appendChild(svg);
function ellipse(cx, cy, rx, ry, dashed) {
  const e = document.createElementNS(svgNS, "ellipse");
  e.setAttribute("cx", cx);
  e.setAttribute("cy", cy);
  e.setAttribute("rx", rx);
  e.setAttribute("ry", ry);
  e.setAttribute("fill", "none");
  e.setAttribute("stroke", dashed ? "#1a2e55" : "#10244f");
  e.setAttribute("stroke-width", 6.5);
  if (dashed) e.setAttribute("stroke-dasharray", "22 10");
  svg.appendChild(e);
}
ellipse(477, 3563, 88, 49);
ellipse(662, 3628, 38, 73);
ellipse(1362, 3509, 77, 43, true);
ellipse(2050, 3509, 77, 43, true);
ellipse(2624, 3586, 79, 43, true);
ellipse(2631, 3734, 39, 74);
</script>
</body>
</html>
